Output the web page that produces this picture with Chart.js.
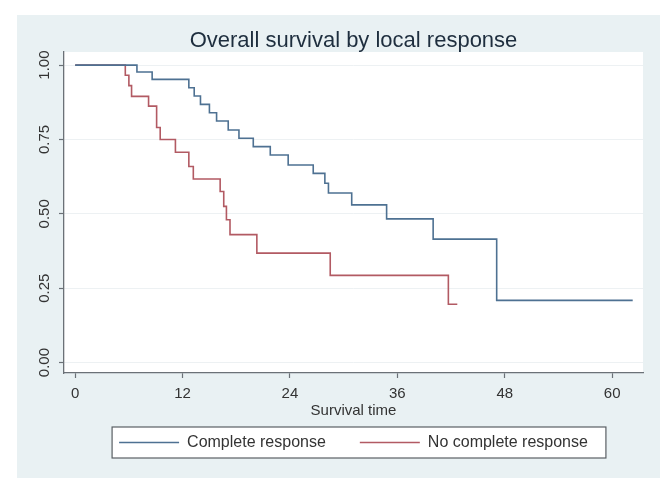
<!DOCTYPE html>
<html>
<head>
<meta charset="utf-8">
<script src="https://cdn.jsdelivr.net/npm/chart.js@4"></script>
<style>
  html, body { margin: 0; padding: 0; background: #fff; }
  #panel { position: absolute; left: 17px; top: 15px; width: 643px; height: 463px; background: #e9f1f3; }
</style>
</head>
<body>
<div id="panel"><canvas id="km" width="643" height="463"></canvas></div>
<script>
// Kaplan-Meier steps (time in months, survival)
var seriesNames = ['Complete response', 'No complete response'];
var crTime = [0, 6.9, 8.6, 12.7, 13.3, 14.0, 15.0, 15.8, 17.1, 18.3, 19.9, 21.8, 23.8, 26.6, 27.9, 28.3, 30.9, 34.8, 40.0, 47.1, 62.3];
var crSurv = [1, 0.977, 0.952, 0.924, 0.896, 0.868, 0.840, 0.812, 0.782, 0.754, 0.726, 0.698, 0.664, 0.636, 0.603, 0.570, 0.530, 0.483, 0.415, 0.209, 0.209];
var ncrTime = [0, 5.6, 6.0, 6.3, 8.2, 9.1, 9.5, 11.2, 12.7, 13.2, 16.2, 16.6, 16.9, 17.3, 20.3, 28.5, 41.7, 42.7];
var ncrSurv = [1, 0.966, 0.931, 0.895, 0.862, 0.790, 0.750, 0.707, 0.659, 0.617, 0.575, 0.525, 0.480, 0.430, 0.368, 0.293, 0.196, 0.196];
var xTicks = [0, 12, 24, 36, 48, 60];
var yTicks = [0, 0.25, 0.5, 0.75, 1];

Chart.defaults.font.family = '"Liberation Sans", Arial, sans-serif';

function toPoints(times, surv) {
    return times.map(function (t, i) { return { x: t, y: surv[i] }; });
}

var axisGray = '#6b7177';

// white plot region and the framed legend
var plotBg = {
    id: 'plotBg',
    beforeDraw: function (chart) {
        var a = chart.chartArea, ctx = chart.ctx;
        ctx.save();
        ctx.fillStyle = '#fff';
        ctx.fillRect(a.left, a.top, a.right - a.left, a.bottom - a.top);
        var hb = chart.legend.legendHitBoxes;
        if (hb && hb.length) {
            var last = hb[hb.length - 1];
            var x0 = hb[0].left - 7, x1 = last.left + last.width + 18;
            var yc = hb[0].top + hb[0].height / 2;
            ctx.fillRect(x0, yc - 15.5, x1 - x0, 31);
            ctx.strokeStyle = '#5a5f64';
            ctx.lineWidth = 1.2;
            ctx.strokeRect(x0, yc - 15.5, x1 - x0, 31);
        }
        ctx.restore();
    }
};

var ctx = document.getElementById('km').getContext('2d');
var myChart = new Chart(ctx, {
    type: 'line',
    data: {
        datasets: [{
            label: seriesNames[0],
            data: toPoints(crTime, crSurv),
            borderColor: '#4e7192',
            backgroundColor: '#4e7192',
            borderWidth: 1.6,
            stepped: 'before',
            pointRadius: 0,
            fill: false
        }, {
            label: seriesNames[1],
            data: toPoints(ncrTime, ncrSurv),
            borderColor: '#b25a63',
            backgroundColor: '#b25a63',
            borderWidth: 1.6,
            stepped: 'before',
            pointRadius: 0,
            fill: false
        }]
    },
    options: {
        responsive: false,
        animation: false,
        layout: { padding: { top: 0, left: 0, right: 17, bottom: 17.5 } },
        plugins: {
            title: {
                display: true,
                text: 'Overall survival by local response',
                fullSize: false,
                color: '#1e2e3e',
                font: { size: 22, weight: 'normal', lineHeight: 1 },
                padding: { top: 15, bottom: 0 }
            },
            legend: {
                position: 'bottom',
                fullSize: false,
                labels: {
                    usePointStyle: true,
                    pointStyle: 'line',
                    pointStyleWidth: 60,
                    padding: 34,
                    color: '#333',
                    font: { size: 16 }
                }
            },
            tooltip: { enabled: false }
        },
        scales: {
            x: {
                type: 'linear',
                min: -1.25,
                max: 63.45,
                afterBuildTicks: function (s) { s.ticks = xTicks.map(function (v) { return { value: v }; }); },
                afterFit: function (s) { s.height = 27.5; },
                grid: { drawOnChartArea: false, tickLength: 5, tickColor: axisGray, tickWidth: 1.2 },
                border: { color: axisGray, width: 1.3 },
                ticks: { padding: 7, color: '#333', font: { size: 15 }, maxRotation: 0,
                    callback: function (v) { return String(v); } },
                title: {
                    display: true,
                    text: 'Survival time',
                    color: '#333',
                    font: { size: 15, lineHeight: 1 },
                    padding: { top: 0, bottom: -18 }
                }
            },
            y: {
                min: -0.035,
                max: 1.044,
                afterBuildTicks: function (s) { s.ticks = yTicks.map(function (v) { return { value: v }; }); },
                afterFit: function (s) { s.width = 47; },
                grid: { color: '#edf1f3', tickLength: 5, tickColor: axisGray, tickWidth: 1.2 },
                border: { color: axisGray, width: 1.3 },
                ticks: { minRotation: 90, maxRotation: 90, crossAlign: 'center', padding: 0,
                    color: '#333', font: { size: 15 },
                    callback: function (v) { return v.toFixed(2); } }
            }
        }
    },
    plugins: [plotBg]
});
</script>
</body>
</html>
